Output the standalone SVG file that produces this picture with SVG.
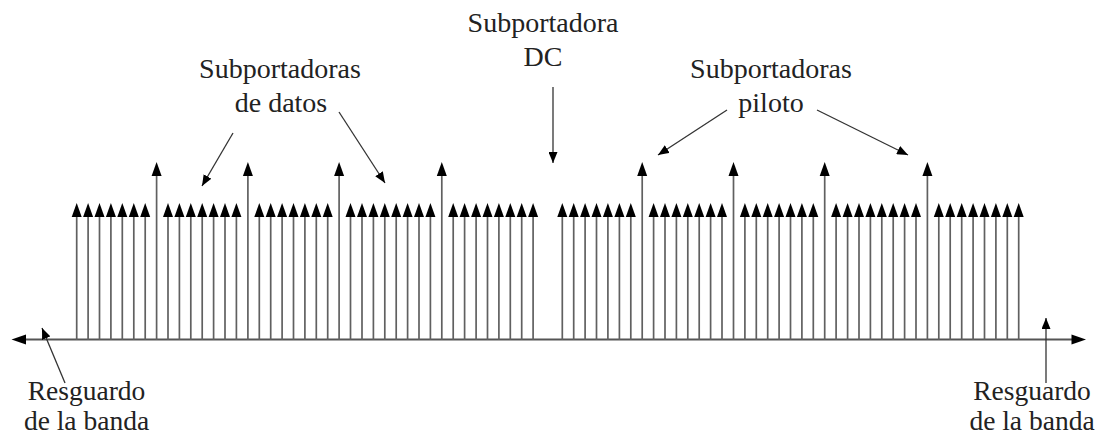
<svg xmlns="http://www.w3.org/2000/svg" width="1105" height="439" viewBox="0 0 1105 439">
<style>
  .lbl { font-family: "Liberation Serif", "DejaVu Serif", serif; font-size: 28px; fill: #222; text-anchor: middle; }
  .lbl.small { font-size: 27.5px; }
  .shaft { stroke: #606060; stroke-width: 1.7; fill: none; }
  .head { fill: #000; stroke: none; }
  .axis { stroke: #555; stroke-width: 2; fill: none; }
  .ptr { stroke: #333; stroke-width: 1.3; fill: none; marker-end: url(#ptrHead); }
</style>
<defs>
  <marker id="ptrHead" markerUnits="userSpaceOnUse" markerWidth="11" markerHeight="9" refX="11" refY="4.5" orient="auto" viewBox="0 0 11 9">
    <path d="M0,0 L11,4.5 L0,9 Z" fill="#000"/>
  </marker>
  <g id="dataArrow">
    <line class="shaft" x1="0" y1="0" x2="0" y2="-125"/>
    <path class="head" d="M0,-137 L5,-123 L-5,-123 Z"/>
  </g>
  <g id="pilotArrow">
    <line class="shaft" x1="0" y1="0" x2="0" y2="-166"/>
    <path class="head" d="M0,-178 L5,-164 L-5,-164 Z"/>
  </g>
</defs>
<rect width="1105" height="439" fill="#fff"/>

<g id="axis">
  <line class="axis" x1="22" y1="339.5" x2="1076" y2="339.5"/>
  <path class="head" d="M11.5,339.5 L26,334.5 L26,344.5 Z"/>
  <path class="head" d="M1086,339.5 L1071.5,334.5 L1071.5,344.5 Z"/>
</g>

<g id="subcarriers-left">
  <use href="#dataArrow" x="76.7" y="340"/>
  <use href="#dataArrow" x="88.1" y="340"/>
  <use href="#dataArrow" x="99.5" y="340"/>
  <use href="#dataArrow" x="110.9" y="340"/>
  <use href="#dataArrow" x="122.3" y="340"/>
  <use href="#dataArrow" x="133.8" y="340"/>
  <use href="#dataArrow" x="145.2" y="340"/>
  <use href="#pilotArrow" x="156.6" y="340"/>
  <use href="#dataArrow" x="168.0" y="340"/>
  <use href="#dataArrow" x="179.4" y="340"/>
  <use href="#dataArrow" x="190.8" y="340"/>
  <use href="#dataArrow" x="202.2" y="340"/>
  <use href="#dataArrow" x="213.6" y="340"/>
  <use href="#dataArrow" x="225.0" y="340"/>
  <use href="#dataArrow" x="236.4" y="340"/>
  <use href="#pilotArrow" x="247.9" y="340"/>
  <use href="#dataArrow" x="259.3" y="340"/>
  <use href="#dataArrow" x="270.7" y="340"/>
  <use href="#dataArrow" x="282.1" y="340"/>
  <use href="#dataArrow" x="293.5" y="340"/>
  <use href="#dataArrow" x="304.9" y="340"/>
  <use href="#dataArrow" x="316.3" y="340"/>
  <use href="#dataArrow" x="327.7" y="340"/>
  <use href="#pilotArrow" x="339.1" y="340"/>
  <use href="#dataArrow" x="350.5" y="340"/>
  <use href="#dataArrow" x="362.0" y="340"/>
  <use href="#dataArrow" x="373.4" y="340"/>
  <use href="#dataArrow" x="384.8" y="340"/>
  <use href="#dataArrow" x="396.2" y="340"/>
  <use href="#dataArrow" x="407.6" y="340"/>
  <use href="#dataArrow" x="419.0" y="340"/>
  <use href="#dataArrow" x="430.4" y="340"/>
  <use href="#pilotArrow" x="441.8" y="340"/>
  <use href="#dataArrow" x="453.2" y="340"/>
  <use href="#dataArrow" x="464.6" y="340"/>
  <use href="#dataArrow" x="476.1" y="340"/>
  <use href="#dataArrow" x="487.5" y="340"/>
  <use href="#dataArrow" x="498.9" y="340"/>
  <use href="#dataArrow" x="510.3" y="340"/>
  <use href="#dataArrow" x="521.7" y="340"/>
  <use href="#dataArrow" x="533.1" y="340"/>
</g>

<g id="subcarriers-right">
  <use href="#dataArrow" x="562.3" y="340"/>
  <use href="#dataArrow" x="573.7" y="340"/>
  <use href="#dataArrow" x="585.1" y="340"/>
  <use href="#dataArrow" x="596.5" y="340"/>
  <use href="#dataArrow" x="607.9" y="340"/>
  <use href="#dataArrow" x="619.4" y="340"/>
  <use href="#dataArrow" x="630.8" y="340"/>
  <use href="#pilotArrow" x="642.2" y="340"/>
  <use href="#dataArrow" x="653.6" y="340"/>
  <use href="#dataArrow" x="665.0" y="340"/>
  <use href="#dataArrow" x="676.4" y="340"/>
  <use href="#dataArrow" x="687.8" y="340"/>
  <use href="#dataArrow" x="699.2" y="340"/>
  <use href="#dataArrow" x="710.6" y="340"/>
  <use href="#dataArrow" x="722.0" y="340"/>
  <use href="#pilotArrow" x="733.5" y="340"/>
  <use href="#dataArrow" x="744.9" y="340"/>
  <use href="#dataArrow" x="756.3" y="340"/>
  <use href="#dataArrow" x="767.7" y="340"/>
  <use href="#dataArrow" x="779.1" y="340"/>
  <use href="#dataArrow" x="790.5" y="340"/>
  <use href="#dataArrow" x="801.9" y="340"/>
  <use href="#dataArrow" x="813.3" y="340"/>
  <use href="#pilotArrow" x="824.7" y="340"/>
  <use href="#dataArrow" x="836.1" y="340"/>
  <use href="#dataArrow" x="847.6" y="340"/>
  <use href="#dataArrow" x="859.0" y="340"/>
  <use href="#dataArrow" x="870.4" y="340"/>
  <use href="#dataArrow" x="881.8" y="340"/>
  <use href="#dataArrow" x="893.2" y="340"/>
  <use href="#dataArrow" x="904.6" y="340"/>
  <use href="#dataArrow" x="916.0" y="340"/>
  <use href="#pilotArrow" x="927.4" y="340"/>
  <use href="#dataArrow" x="938.8" y="340"/>
  <use href="#dataArrow" x="950.2" y="340"/>
  <use href="#dataArrow" x="961.7" y="340"/>
  <use href="#dataArrow" x="973.1" y="340"/>
  <use href="#dataArrow" x="984.5" y="340"/>
  <use href="#dataArrow" x="995.9" y="340"/>
  <use href="#dataArrow" x="1007.3" y="340"/>
  <use href="#dataArrow" x="1018.7" y="340"/>
</g>

<g id="label-dc">
  <text class="lbl" x="543" y="32">Subportadora</text>
  <text class="lbl" x="543" y="66">DC</text>
</g>
<g id="label-datos">
  <text class="lbl" x="280" y="78">Subportadoras</text>
  <text class="lbl" x="281" y="112">de datos</text>
</g>
<g id="label-piloto">
  <text class="lbl" x="771" y="78">Subportadoras</text>
  <text class="lbl" x="771" y="112">piloto</text>
</g>
<g id="label-guard-left">
  <text class="lbl small" x="86.5" y="400">Resguardo</text>
  <text class="lbl small" x="86.5" y="430">de la banda</text>
</g>
<g id="label-guard-right">
  <text class="lbl small" x="1032" y="400">Resguardo</text>
  <text class="lbl small" x="1032" y="430">de la banda</text>
</g>

<g id="connectors">
  <line class="ptr" x1="233" y1="133" x2="202" y2="186"/>
  <line class="ptr" x1="339" y1="112" x2="385" y2="183"/>
  <line class="ptr" x1="553" y1="87" x2="553" y2="163"/>
  <line class="ptr" x1="727" y1="110" x2="658" y2="155"/>
  <line class="ptr" x1="817" y1="110" x2="908" y2="155"/>
  <line class="ptr" x1="65" y1="383" x2="42" y2="328"/>
  <line class="ptr" x1="1046" y1="383" x2="1046" y2="318"/>
</g>
</svg>
